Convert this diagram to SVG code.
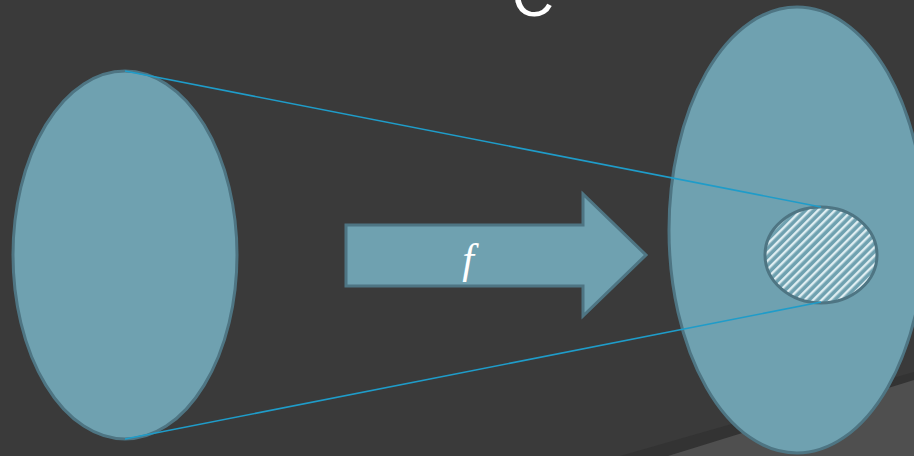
<svg xmlns="http://www.w3.org/2000/svg" width="914" height="456" viewBox="0 0 914 456">
<defs>
<style>
.shape{fill:#6fa1b0;stroke:#4e7583;stroke-width:3}
.conn{stroke:#1f9cc9;stroke-width:1.6;fill:none}
</style>
<pattern id="hatch" width="6" height="6" patternUnits="userSpaceOnUse" patternTransform="rotate(45)">
<rect width="6" height="6" fill="#6fa1b0"/>
<rect width="2.4" height="6" fill="#dfeef2"/>
</pattern>
<linearGradient id="shade" x1="0" y1="0" x2="0" y2="1">
<stop offset="0" stop-color="#2f2f2f"/>
<stop offset="1" stop-color="#3a3a3a"/>
</linearGradient>
</defs>
<rect width="914" height="456" fill="#3a3a3a"/>
<polygon points="620,456 914,372 914,386 668,456" fill="#333"/>
<polygon points="668,456 914,380 914,456" fill="#4f4f4f"/>
<text x="512" y="16" font-family="Liberation Sans, sans-serif" font-size="58" fill="#ffffff">C</text>
<g id="domain">
<ellipse class="shape" cx="125" cy="255" rx="112" ry="184"/>
</g>
<g id="codomain">
<ellipse class="shape" cx="797" cy="230" rx="128" ry="223"/>
</g>
<g id="image">
<ellipse cx="821" cy="255" rx="56" ry="48" fill="url(#hatch)" stroke="#4e7583" stroke-width="3"/>
</g>
<g id="map-arrow">
<polygon class="shape" stroke-width="2.5" points="346,225 583,225 583,194 646,255 583,316 583,286 346,286"/>
<text x="468" y="273" font-family="Liberation Serif, serif" font-style="italic" font-size="42" fill="#ffffff" text-anchor="middle">f</text>
</g>
<g id="connectors">
<line class="conn" x1="125" y1="71" x2="821" y2="207"/>
<line class="conn" x1="125" y1="439" x2="821" y2="302"/>
</g>
</svg>
